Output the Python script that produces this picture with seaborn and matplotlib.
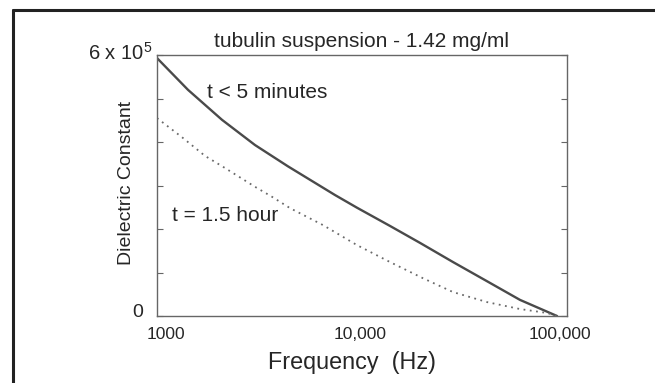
import numpy as np
import pandas as pd
import matplotlib
matplotlib.use('Agg')
import matplotlib.pyplot as plt
import matplotlib.transforms as mtransforms
from matplotlib.lines import Line2D
import seaborn as sns

# ========== data ==========
freq_early = [1000, 1416, 2075, 3007, 4355, 7390, 9450, 13700, 19200, 27800, 40700, 59000, 76400, 89400]
eps_early = [5.93, 5.20, 4.51, 3.93, 3.44, 2.78, 2.49, 2.07, 1.68, 1.24, 0.80, 0.37, 0.14, 0.0]

freq_late = [1000, 1324, 1715, 2150, 3007, 3640, 4455, 6450, 9450, 13700, 19800, 27800, 40700, 59000, 79900, 89400]
eps_late = [4.55, 4.11, 3.68, 3.40, 2.97, 2.74, 2.48, 2.09, 1.63, 1.24, 0.87, 0.55, 0.32, 0.16, 0.07, 0.0]

x_ticks = [1000, 10000, 100000]
x_ticklabels = ['1000', '10,000', '100,000']
y_ticks = [0, 1e5, 2e5, 3e5, 4e5, 5e5, 6e5]
y_ticklabels = ['0', '', '', '', '', '', '6 x 10$^5$']

df = pd.concat([
    pd.DataFrame({'freq': freq_early, 'eps': np.array(eps_early) * 1e5, 'series': 't < 5 minutes'}),
    pd.DataFrame({'freq': freq_late, 'eps': np.array(eps_late) * 1e5, 'series': 't = 1.5 hour'}),
])

# ========== style ==========
sns.set_style('white')
plt.rcParams['font.family'] = ['Liberation Sans', 'DejaVu Sans']
plt.rcParams['mathtext.fontset'] = 'custom'
plt.rcParams['mathtext.rm'] = 'Liberation Sans'
plt.rcParams['mathtext.it'] = 'Liberation Sans'

fig = plt.figure(figsize=(6.55, 3.83), dpi=100)
ax = fig.add_axes([157/655, 1 - 316/383, 410/655, 261/383])

sns.lineplot(data=df, x='freq', y='eps', hue='series', style='series',
             palette={'t < 5 minutes': '#4a4a4a', 't = 1.5 hour': '#6a6a6a'},
             dashes={'t < 5 minutes': '', 't = 1.5 hour': (1, 2.5)},
             legend=False, ax=ax, sort=False)
lines = ax.get_lines()
lines[0].set_linewidth(1.7)
lines[1].set_linewidth(1.3)

ax.set_xscale('log')
ax.set_xlim(1000, 100000)
ax.set_ylim(0, 6e5)
ax.set_xticks(x_ticks)
ax.set_xticklabels(x_ticklabels, fontsize=12.5)
ax.xaxis.set_minor_locator(matplotlib.ticker.NullLocator())
ax.set_yticks(y_ticks)
ax.set_yticklabels([])
ax.tick_params(axis='x', direction='in', length=4, width=0.8, color='#666666', pad=8)
ax.tick_params(axis='y', direction='in', length=4, width=0.8, color='#666666',
               right=True, left=True)

# the original x tick labels are not quite centred on their ticks
for lab, dx in zip(ax.get_xticklabels(), [9, -2, -7]):
    lab.set_transform(lab.get_transform() + mtransforms.ScaledTranslation(dx / 100, 0, fig.dpi_scale_trans))

# y tick labels: only the ends are labelled, sitting a bit off the axis
ytrans = mtransforms.blended_transform_factory(ax.transAxes, ax.transData)
ax.text(-14/410, y_ticks[0] + 0.09e5, y_ticklabels[0], transform=ytrans,
        ha='right', va='center', fontsize=14)
ax.text(-5/410, y_ticks[-1] + 0.06e5, y_ticklabels[-1], transform=ytrans,
        ha='right', va='center', fontsize=14.5)

for s in ax.spines.values():
    s.set_color('#666666')
    s.set_linewidth(1.0)

ax.set_xlabel('Frequency  (Hz)', fontsize=16.8)
ax.xaxis.set_label_coords(0.476, -0.134)
ax.set_ylabel('Dielectric Constant', fontsize=14)
ax.yaxis.set_label_coords(-0.054, 0.51)
ax.set_title('tubulin suspension - 1.42 mg/ml', fontsize=15, pad=6)

ax.text(1754, 5.13e5, 't < 5 minutes', fontsize=15, va='center')
ax.text(1184, 2.32e5, 't = 1.5 hour', fontsize=15, va='center')

# outer frame (top and left edges)
fig.add_artist(Line2D([12.5/655, 1], [1 - 9.5/383, 1 - 9.5/383], color='#222222', lw=2.2))
fig.add_artist(Line2D([12.5/655, 12.5/655], [0, 1 - 9.5/383], color='#222222', lw=2.2))

fig.savefig('out.png', dpi=100)
